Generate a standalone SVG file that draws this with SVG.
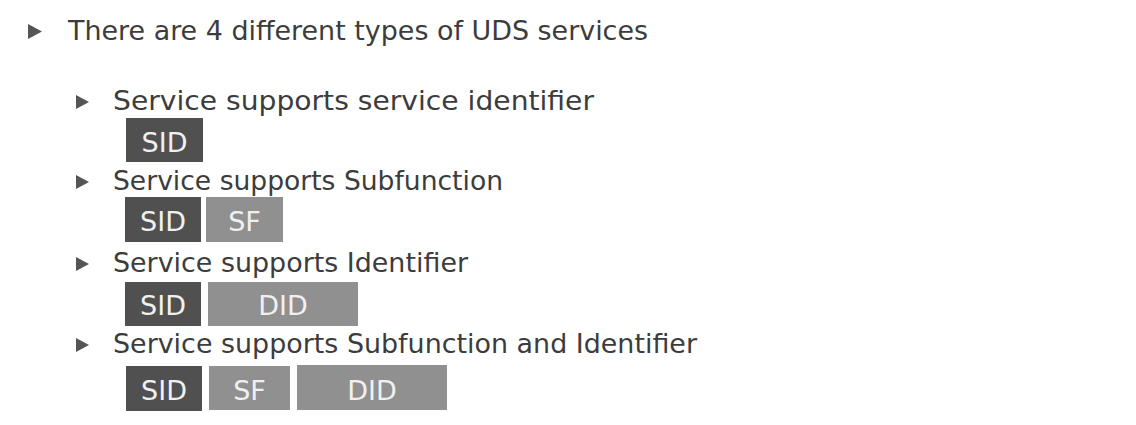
<svg xmlns="http://www.w3.org/2000/svg" width="1136" height="425" viewBox="0 0 1136 425">
<style>
.t{font-family:"DejaVu Sans",Verdana,sans-serif;font-size:27px;fill:#3c3c3c}
.b{font-family:"DejaVu Sans",Verdana,sans-serif;font-size:27px;fill:#f0f0f0;text-anchor:middle}
.d{fill:#505050}
.l{fill:#909090}
.tri{fill:#555}
</style>
<rect width="1136" height="425" fill="#ffffff"/>
<g id="title">
<polygon class="tri" points="28,24 42,31.5 28,39"/>
<text class="t" x="68" y="40" textLength="580" lengthAdjust="spacingAndGlyphs">There are 4 different types of UDS services</text>
</g>
<g id="item1">
<polygon class="tri" points="76,95 89,102 76,109"/>
<text class="t" x="113" y="110" textLength="481" lengthAdjust="spacingAndGlyphs">Service supports service identifier</text>
<rect class="d" x="126" y="118" width="77" height="44"/>
<text class="b" x="164.5" y="152">SID</text>
</g>
<g id="item2">
<polygon class="tri" points="76,175 89,182 76,189"/>
<text class="t" x="113" y="190" textLength="390" lengthAdjust="spacingAndGlyphs">Service supports Subfunction</text>
<rect class="d" x="125" y="197" width="76" height="45"/>
<text class="b" x="163" y="231">SID</text>
<rect class="l" x="206" y="197" width="77" height="45"/>
<text class="b" x="244.5" y="231">SF</text>
</g>
<g id="item3">
<polygon class="tri" points="76,257 89,264 76,271"/>
<text class="t" x="113" y="272" textLength="355" lengthAdjust="spacingAndGlyphs">Service supports Identifier</text>
<rect class="d" x="125" y="282" width="76" height="44"/>
<text class="b" x="163" y="315">SID</text>
<rect class="l" x="208" y="282" width="150" height="44"/>
<text class="b" x="283" y="315">DID</text>
</g>
<g id="item4">
<polygon class="tri" points="76,338 89,345 76,352"/>
<text class="t" x="113" y="353" textLength="584" lengthAdjust="spacingAndGlyphs">Service supports Subfunction and Identifier</text>
<rect class="d" x="126" y="366" width="76" height="45"/>
<text class="b" x="164" y="400">SID</text>
<rect class="l" x="209" y="366" width="81" height="44"/>
<text class="b" x="249.5" y="400">SF</text>
<rect class="l" x="297" y="365" width="150" height="45"/>
<text class="b" x="372" y="400">DID</text>
</g>
</svg>
